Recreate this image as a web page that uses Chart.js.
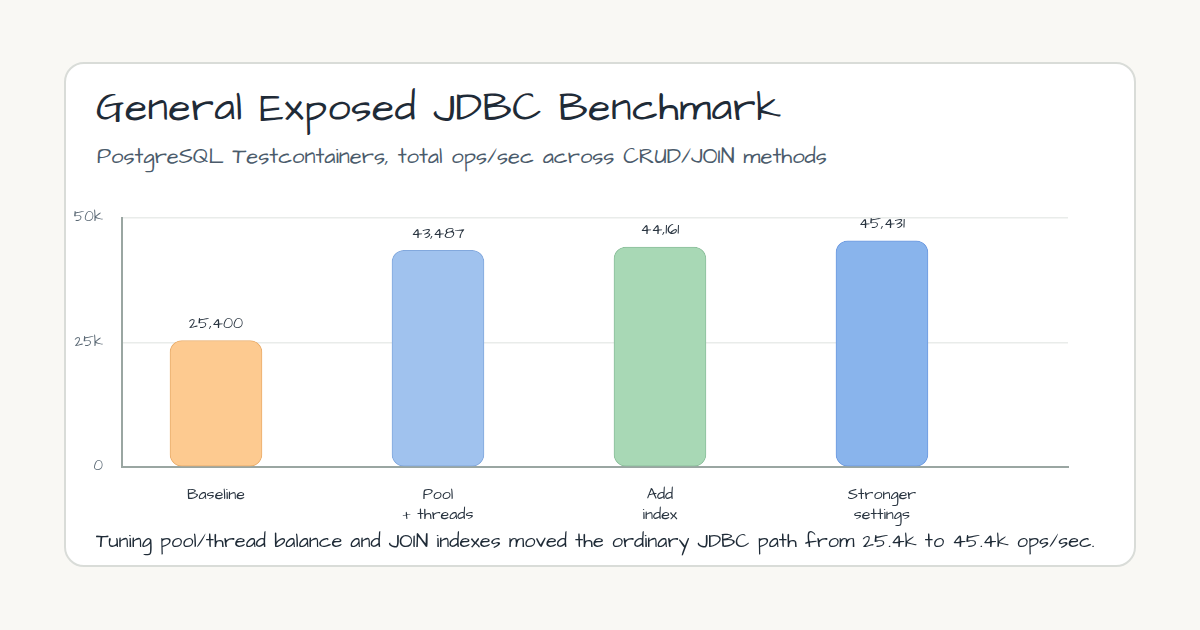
<!DOCTYPE html>
<html>
<head>
<meta charset="utf-8">
<script src="https://cdn.jsdelivr.net/npm/chart.js@4.4.1/dist/chart.umd.min.js"></script>
<style>
  html, body { margin: 0; padding: 0; }
  body {
    width: 1200px; height: 630px; background: #f9f8f4; position: relative; overflow: hidden;
    font-family: "Architects Daughter", "Comic Neue", "Noto Sans", sans-serif;
  }
  .card {
    position: absolute; left: 64px; top: 62px; width: 1068px; height: 501px;
    background: #fff; border: 2px solid #d9dcd8; border-radius: 20px;
  }
  .title {
    position: absolute; left: 96px; top: 80px; font-size: 41px; color: #1f2b37;
    letter-spacing: 0.5px; white-space: nowrap;
  }
  .subtitle {
    position: absolute; left: 97px; top: 141px; font-size: 22px; color: #4b5b6b; white-space: nowrap;
  }
  .note {
    position: absolute; left: 96px; top: 527px; font-size: 20px; color: #1f2b37; white-space: nowrap;
  }
  .chart-box { position: absolute; left: 64px; top: 190px; width: 1072px; height: 340px; }
</style>
</head>
<body>
<div class="card"></div>
<div class="title">General Exposed JDBC Benchmark</div>
<div class="subtitle">PostgreSQL Testcontainers, total ops/sec across CRUD/JOIN methods</div>
<div class="chart-box"><canvas id="chart"></canvas></div>
<div class="note">Tuning pool/thread balance and JOIN indexes moved the ordinary JDBC path from 25.4k to 45.4k ops/sec.</div>

<script>
var categories = [["Baseline"], ["Pool", "+ threads"], ["Add", "index"], ["Stronger", "settings"]];
var opsPerSec = [25400, 43487, 44161, 45431];
var yTicks = [0, 25000, 50000];
var yTickLabels = ["0", "25k", "50k"];

var fillColors = ["#fdca90", "#a0c2ee", "#a8d8b5", "#89b4ec"];
var edgeColors = ["#e9ad6c", "#82a8dd", "#8cbf9c", "#6f9be0"];

var fontStack = '"Architects Daughter", "Comic Neue", "Noto Sans", sans-serif';

var valueLabels = {
  id: "valueLabels",
  afterDatasetsDraw: function(chart) {
    var ctx = chart.ctx;
    var meta = chart.getDatasetMeta(0);
    ctx.save();
    ctx.font = "16px " + fontStack;
    ctx.fillStyle = "#2a3541";
    ctx.textAlign = "center";
    ctx.textBaseline = "middle";
    meta.data.forEach(function(bar, i) {
      ctx.fillText(opsPerSec[i].toLocaleString("en-US"), bar.x, bar.y - 16);
    });
    ctx.restore();
  }
};

var points = opsPerSec.map(function(v, i) { return { x: i, y: v }; });

new Chart(document.getElementById("chart"), {
  type: "bar",
  data: {
    datasets: [{
      data: points,
      backgroundColor: fillColors,
      borderColor: edgeColors,
      borderWidth: 1,
      borderRadius: 12,
      borderSkipped: false,
      barThickness: 92
    }]
  },
  options: {
    responsive: true,
    maintainAspectRatio: false,
    animation: false,
    layout: { padding: { left: 0, right: 68, top: 27, bottom: 0 } },
    plugins: { legend: { display: false }, tooltip: { enabled: false } },
    scales: {
      x: {
        type: "linear",
        offset: false,
        min: -0.4234,
        max: 3.838,
        afterBuildTicks: function(scale) {
          scale.ticks = categories.map(function(c, i) { return { value: i }; });
        },
        afterFit: function(scale) { scale.height = 63; },
        grid: { display: false },
        border: { color: "#9aa6a2", width: 2 },
        ticks: {
          padding: 11,
          color: "#2a3541",
          font: { family: fontStack, size: 16, lineHeight: 1.25 },
          maxRotation: 0,
          autoSkip: false,
          callback: function(value) { return categories[value]; }
        }
      },
      y: {
        min: 0,
        max: 50000,
        afterBuildTicks: function(scale) {
          scale.ticks = yTicks.map(function(v) { return { value: v }; });
        },
        afterFit: function(scale) { scale.width = 58; },
        grid: { color: "#e9ecea", lineWidth: 1.5, drawTicks: false },
        border: { color: "#9aa6a2", width: 2 },
        ticks: {
          padding: 19,
          color: "#5a6874",
          font: { family: fontStack, size: 15 },
          callback: function(value) { return yTickLabels[yTicks.indexOf(value)]; }
        }
      }
    }
  },
  plugins: [valueLabels]
});
</script>
</body>
</html>
